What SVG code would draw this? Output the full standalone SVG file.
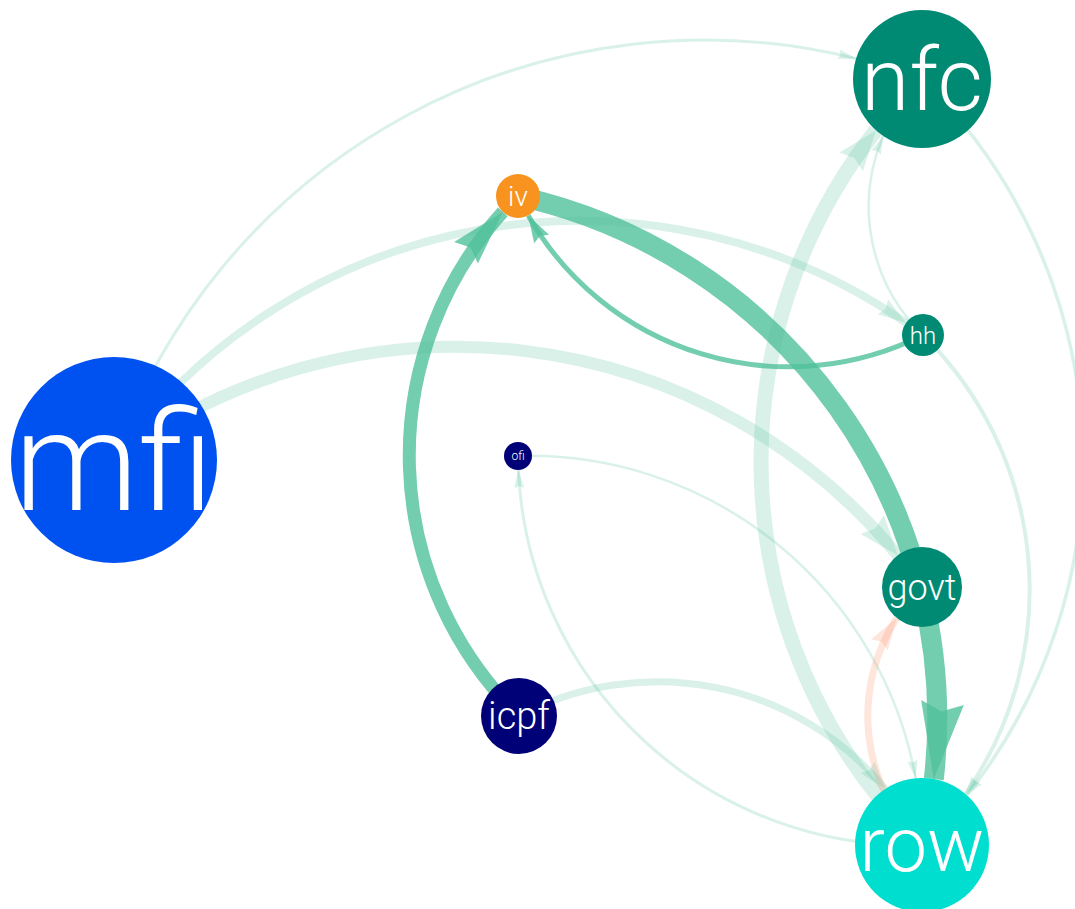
<svg xmlns="http://www.w3.org/2000/svg" width="1075" height="909" viewBox="0 0 1075 909">
<style>
.e{fill:none;stroke-linecap:butt}
.g{stroke:rgb(80,192,155);stroke-opacity:0.8}
.l{stroke:rgb(80,192,155);stroke-opacity:0.22}
.s{stroke:#FC8D62;stroke-opacity:0.22}
.lbl{fill:#ffffff;font-family:Roboto,"Liberation Sans",sans-serif;font-weight:300;text-anchor:middle}
.teal{fill:#008A74}
.navy{fill:#000077}
</style>
<defs>
<marker id="aLs" markerUnits="userSpaceOnUse" viewBox="-18 -5 18 10" markerWidth="18" markerHeight="10" refX="0" refY="0" orient="auto" overflow="visible"><path d="M0,0 L-18,-5 L-16,0 L-18,5 Z" fill="rgb(80,192,155)" fill-opacity="0.22"/></marker>
<marker id="aLm" markerUnits="userSpaceOnUse" viewBox="-28 -9 28 18" markerWidth="28" markerHeight="18" refX="0" refY="0" orient="auto" overflow="visible"><path d="M0,0 L-28,-9 L-24.5,0 L-28,9 Z" fill="rgb(80,192,155)" fill-opacity="0.22"/></marker>
<marker id="aLw" markerUnits="userSpaceOnUse" viewBox="-40 -15 40 30" markerWidth="40" markerHeight="30" refX="0" refY="0" orient="auto" overflow="visible"><path d="M0,0 L-40,-15 L-35,0 L-40,15 Z" fill="rgb(80,192,155)" fill-opacity="0.22"/></marker>
<marker id="aSal" markerUnits="userSpaceOnUse" viewBox="-32 -10 32 20" markerWidth="32" markerHeight="20" refX="0" refY="0" orient="auto" overflow="visible"><path d="M0,0 L-32,-10 L-28,0 L-32,10 Z" fill="#FC8D62" fill-opacity="0.22"/></marker>
<marker id="aGs" markerUnits="userSpaceOnUse" viewBox="-27 -8.5 27 17" markerWidth="27" markerHeight="17" refX="0" refY="0" orient="auto" overflow="visible"><path d="M0,0 L-27,-8.5 L-23.5,0 L-27,8.5 Z" fill="rgb(80,192,155)" fill-opacity="0.8"/></marker>
<marker id="aGm" markerUnits="userSpaceOnUse" viewBox="-55 -16 55 32" markerWidth="55" markerHeight="32" refX="0" refY="0" orient="auto" overflow="visible"><path d="M0,0 L-55,-16 L-48,0 L-55,16 Z" fill="rgb(80,192,155)" fill-opacity="0.8"/></marker>
<marker id="aGl" markerUnits="userSpaceOnUse" viewBox="-77 -21.5 77 43" markerWidth="77" markerHeight="43" refX="0" refY="0" orient="auto" overflow="visible"><path d="M0,0 L-77,-21.5 L-68,0 L-77,21.5 Z" fill="rgb(80,192,155)" fill-opacity="0.8"/></marker>
</defs>
<rect width="1075" height="909" fill="#ffffff"/>
<g id="connectors">
<path class="e l" stroke-width="3" marker-end="url(#aLs)" d="M114,460 A625.3,625.3 0 0,1 856.1,58.6"/>
<path class="e l" stroke-width="8" marker-end="url(#aLm)" d="M114,460 A573,573 0 0,1 905.9,322.7"/>
<path class="e l" stroke-width="12" marker-end="url(#aLw)" d="M114,460 A572.5,572.5 0 0,1 897.7,555.3"/>
<path class="e l" stroke-width="15" marker-end="url(#aLw)" d="M922,845 A536.2,536.2 0 0,1 875.9,130.4"/>
<path class="e l" stroke-width="2.5" marker-end="url(#aLs)" d="M923,335 A179.2,179.2 0 0,1 883.2,136"/>
<path class="e l" stroke-width="3.5" marker-end="url(#aLs)" d="M922,79 A536.2,536.2 0 0,1 966.9,795.2"/>
<path class="e l" stroke-width="4" marker-end="url(#aLs)" d="M923,335 A357,357 0 0,1 965.4,793.9"/>
<path class="e l" stroke-width="2.5" marker-end="url(#aLs)" d="M518,456 A392.6,392.6 0 0,1 915.7,778.3"/>
<path class="e l" stroke-width="3" marker-end="url(#aLs)" d="M922,845 A392.6,392.6 0 0,1 518.4,470"/>
<path class="e l" stroke-width="7" marker-end="url(#aLm)" d="M519,716 A296.2,296.2 0 0,1 885.4,788.9"/>
<path class="e s" stroke-width="7" marker-end="url(#aSal)" d="M922,845 A180.6,180.6 0 0,1 896.7,618"/>
<path class="e g" stroke-width="13" marker-end="url(#aGm)" d="M519,716 A364,364 0 0,1 502.8,211.9"/>
<path class="e g" stroke-width="5" marker-end="url(#aGs)" d="M923,335 A299.7,299.7 0 0,1 528.2,215.5"/>
<path class="e g" stroke-width="20" marker-end="url(#aGl)" d="M518,196 A535.2,535.2 0 0,1 933.8,779"/>
</g>
<g id="node-mfi"><circle cx="114" cy="460" r="103" fill="#0052F0"/><text class="lbl" x="114" y="510" font-size="140">mfi</text></g>
<g id="node-nfc"><circle class="teal" cx="922" cy="79" r="69"/><text class="lbl" x="922" y="110" font-size="88">nfc</text></g>
<g id="node-iv"><circle cx="518" cy="196" r="22" fill="#F7931E"/><text class="lbl" x="518" y="206" font-size="28">iv</text></g>
<g id="node-hh"><circle class="teal" cx="923" cy="335" r="21"/><text class="lbl" x="923" y="343.5" font-size="24">hh</text></g>
<g id="node-ofi"><circle class="navy" cx="518" cy="456" r="14"/><text class="lbl" x="518" y="460" font-size="12">ofi</text></g>
<g id="node-govt"><circle class="teal" cx="922" cy="587" r="40"/><text class="lbl" x="922" y="600" font-size="36">govt</text></g>
<g id="node-icpf"><circle class="navy" cx="519" cy="716" r="38"/><text class="lbl" x="519" y="729" font-size="38">icpf</text></g>
<g id="node-row"><circle cx="922" cy="845" r="67" fill="#00DFCF"/><text class="lbl" x="922" y="871" font-size="76">row</text></g>
</svg>
